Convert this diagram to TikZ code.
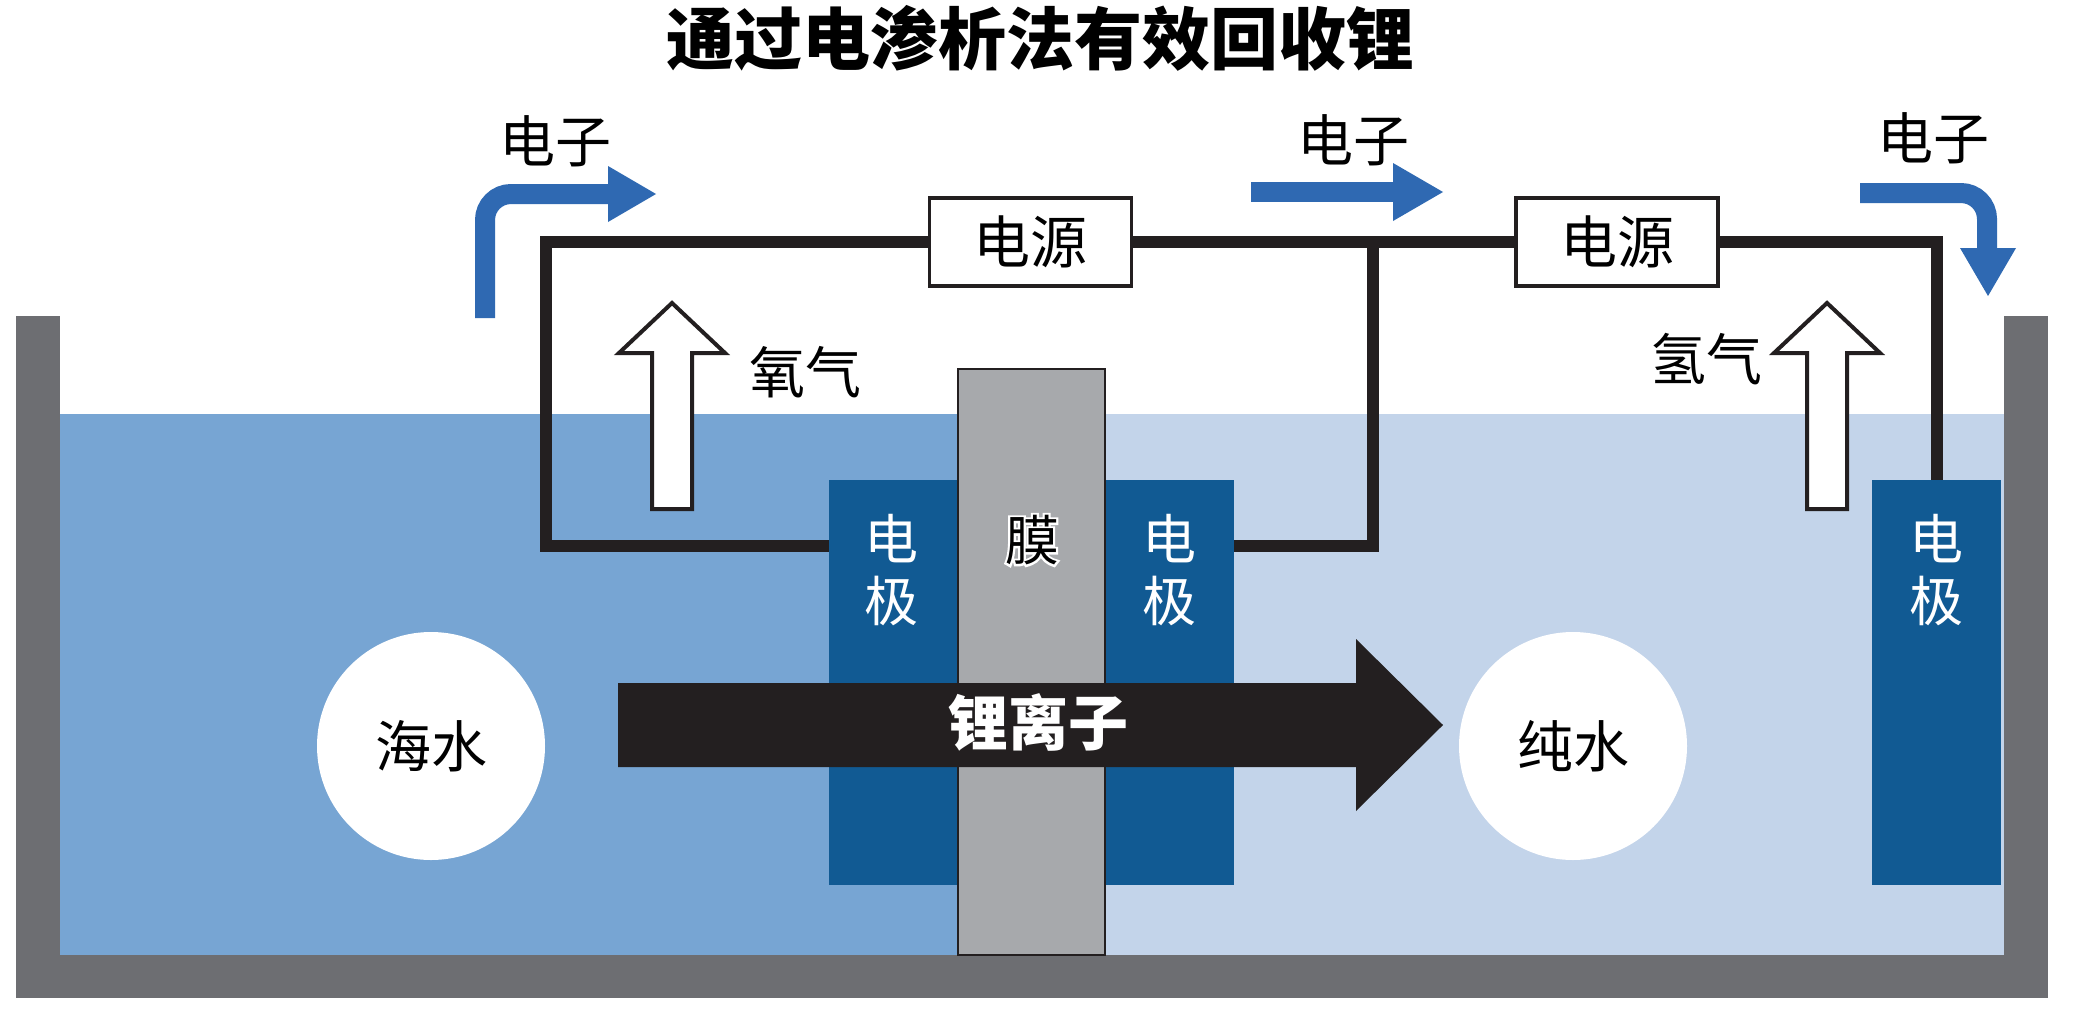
\documentclass[tikz,border=0pt]{standalone}
\usepackage{fontspec}
\newfontfamily\cjk{Noto Sans CJK SC}
\newfontfamily\cjkhalo{Noto Sans CJK SC}[FakeBold=8]
\definecolor{seawater}{HTML}{77A5D3}
\definecolor{purewater}{HTML}{C3D4EA}
\definecolor{tankgray}{HTML}{6D6E72}
\definecolor{memgray}{HTML}{A7A9AC}
\definecolor{elecblue}{HTML}{115A93}
\definecolor{flowblue}{HTML}{2F69B2}
\definecolor{liblack}{HTML}{231F20}
\begin{document}
\begin{tikzpicture}[x=0.5pt,y=-0.5pt,
  lbl/.style={font=\cjk\fontsize{28}{28}\selectfont, text=black, inner sep=0pt},
  wire/.style={draw=liblack, line width=6pt, line join=miter},
  pbox/.style={draw=liblack, line width=1.8pt, fill=white, minimum width=101pt, minimum height=44pt, inner sep=0pt, font=\cjk\fontsize{28.5}{28.5}\selectfont},
  electrode/.style={fill=elecblue, minimum width=64.5pt, minimum height=202.5pt, inner sep=0pt},
  etext/.style={text=white, align=center, inner sep=0pt, font=\cjk\fontsize{27}{31}\selectfont},
  gasarrow/.style={draw=liblack, line width=2pt, fill=white, line join=miter},
  bluearrow/.style={draw=flowblue, line width=10pt},
  bluehead/.style={fill=flowblue},
  waterdot/.style={circle, fill=white, minimum size=114pt, inner sep=0pt, font=\cjk\fontsize{28}{28}\selectfont},
]
\useasboundingbox (0,0) rectangle (2081,1023);
\fill[white] (0,0) rectangle (2081,1023);

% water
\fill[seawater] (60,414) rectangle (958,955);
\fill[purewater] (1105,414) rectangle (2004,955);

% tank
\fill[tankgray] (16,316) rectangle (60,998);
\fill[tankgray] (2004,316) rectangle (2048,998);
\fill[tankgray] (16,955) rectangle (2048,998);

% electrodes
\node[electrode] (eL) at (893.5,682.5) {};
\node[electrode] (eM) at (1169.5,682.5) {};
\node[electrode] (eR) at (1936.5,682.5) {};
\node[etext] (tL) at (891,570) {电\\极};
\node[etext] (tM) at (1169,570) {电\\极};
\node[etext] (tR) at (1936,570) {电\\极};

% membrane
\node[draw=liblack, line width=1pt, fill=memgray, minimum width=73.5pt, minimum height=293pt, inner sep=0pt] (mem) at (1031.5,662) {};
\node[font=\cjkhalo\fontsize{27}{27}\selectfont, text=white, inner sep=0pt] (memh) at (1032,540) {膜};
\node[font=\cjk\fontsize{27}{27}\selectfont, text=black, inner sep=0pt] (memt) at (1032,540) {膜};

% lithium arrow
\fill[liblack] (618,683) -- (1356,683) -- (1356,639) -- (1443,725) -- (1356,811) -- (1356,767) -- (618,767) -- cycle;
\node[font=\cjk\bfseries\fontsize{30}{30}\selectfont, text=white, inner sep=0pt] (li) at (1038,722) {锂离子};

% water circles
\node[waterdot] (sea) at (431,746) {海水};
\node[waterdot] (pure) at (1573,746) {纯水};

% power boxes
\node[pbox] (box1) at (1030.5,242) {电源};
\node[pbox] (box2) at (1617,242) {电源};

% wires
\coordinate (jL) at (546,546);
\coordinate (jM) at (1373,242);
\draw[wire] (eL.west |- jL) -- (jL) |- (box1.west);
\draw[wire] (box1.east) -- (box2.west);
\draw[wire] (eM.east |- jL) -| (jM);
\draw[wire] (box2.east) -| (eR.north);

% gas arrows
\draw[gasarrow] (652,509) -- (652,353) -- (619,353) -- (672,303) -- (725,353) -- (692,353) -- (692,509) -- cycle;
\draw[gasarrow] (1807,509) -- (1807,353) -- (1774,353) -- (1827,303) -- (1880,353) -- (1847,353) -- (1847,509) -- cycle;
\node[lbl] (o2) at (805,372) {氧气};
\node[lbl] (h2) at (1706,359) {氢气};

% electron arrows
\coordinate (a1s) at (485,318);
\coordinate (a1e) at (610,194);
\draw[bluearrow, rounded corners=13pt] (a1s) -- (485,194) -- (a1e);
\fill[bluehead] (608,166) -- (656,194) -- (608,222) -- cycle;
\coordinate (a2s) at (1251,192);
\coordinate (a2e) at (1395,192);
\draw[bluearrow] (a2s) -- (a2e);
\fill[bluehead] (1393,163) -- (1443,192) -- (1393,221) -- cycle;
\coordinate (a3s) at (1860,193);
\coordinate (a3e) at (1987,250);
\draw[bluearrow, rounded corners=13pt] (a3s) -- (1987,193) -- (a3e);
\fill[bluehead] (1960,248) -- (1988,296) -- (2016,248) -- cycle;
\node[lbl] (el1) at (555,141) {电子};
\node[lbl] (el2) at (1353,140) {电子};
\node[lbl] (el3) at (1933,138) {电子};

% title
\node[font=\cjk\bfseries\fontsize{34}{34}\selectfont, inner sep=0pt] (title) at (1040,38) {通过电渗析法有效回收锂};
\end{tikzpicture}
\end{document}
